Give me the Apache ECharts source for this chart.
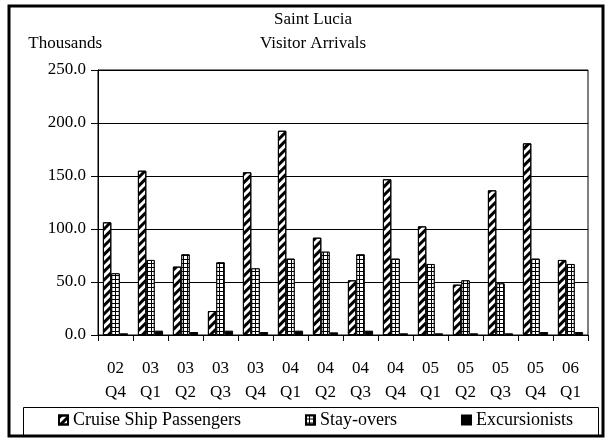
<!DOCTYPE html>
<html>
<head>
<meta charset="utf-8">
<script src="https://cdn.jsdelivr.net/npm/echarts@6/dist/echarts.min.js"></script>
<style>
  html, body { margin: 0; padding: 0; background: #fff; }
  #chart { width: 608px; height: 440px; }
</style>
</head>
<body>
<div id="chart"></div>
<script>
// Quarterly visitor arrivals to Saint Lucia, in thousands
const quarters = ['02\nQ4', '03\nQ1', '03\nQ2', '03\nQ3', '03\nQ4', '04\nQ1', '04\nQ2',
                  '04\nQ3', '04\nQ4', '05\nQ1', '05\nQ2', '05\nQ3', '05\nQ4', '06\nQ1'];
const cruisePassengers = [106.3, 155.0, 64.5, 22.6, 153.5, 192.7, 91.8, 51.6, 146.9, 102.5, 47.5, 136.5, 180.8, 70.8];
const stayOvers        = [58.2, 70.8, 76.1, 68.6, 62.9, 72.0, 78.6, 76.1, 72.0, 67.0, 51.6, 48.7, 72.0, 67.0];
const excursionists    = [1.6, 4.1, 2.8, 4.1, 2.8, 4.1, 2.5, 4.1, 1.6, 1.6, 1.6, 1.6, 2.8, 2.8];
const yTicks = { min: 0, max: 250, step: 50 };

const serif = '"Liberation Serif", "Times New Roman", serif';
const txt = { fontFamily: serif, fontSize: 17, color: '#000' };

const chart = echarts.init(document.getElementById('chart'), null, { renderer: 'canvas' });

// diagonal "/" hatch for cruise passengers
const stripes = {
  symbol: 'rect', symbolSize: 1,
  color: '#000', backgroundColor: 'rgba(0,0,0,0)',
  dashArrayX: [1, 0], dashArrayY: [3, 3],
  rotation: -Math.PI / 4
};
// small square grid for stay-overs
const grid = {
  symbol: 'rect', symbolSize: 1,
  color: '#fff', backgroundColor: '#000',
  dashArrayX: [3, 1], dashArrayY: [3, 1],
  rotation: 0
};

chart.setOption({
  animation: false,
  backgroundColor: '#fff',
  textStyle: { fontFamily: serif },
  graphic: [
    { type: 'rect', shape: { x: 9, y: 6, width: 594, height: 430 },
      style: { fill: 'none', stroke: '#000', lineWidth: 3 }, silent: true },
    { type: 'rect', shape: { x: 23.5, y: 407.5, width: 575, height: 28 },
      style: { fill: 'none', stroke: '#000', lineWidth: 1 }, silent: true },
    { type: 'text', x: 313, y: 20,
      style: { text: 'Saint Lucia', textAlign: 'center', textVerticalAlign: 'middle', font: '17px ' + serif, fill: '#000' } },
    { type: 'text', x: 313, y: 44,
      style: { text: 'Visitor Arrivals', textAlign: 'center', textVerticalAlign: 'middle', font: '17px ' + serif, fill: '#000' } }
  ],
  grid: {
    left: 98, right: 20, top: 70, bottom: 105,
    show: true, borderColor: '#000', borderWidth: 1, backgroundColor: 'rgba(0,0,0,0)'
  },
  legend: {
    left: 58, top: 411,
    padding: 0,
    itemWidth: 9, itemHeight: 9, itemGap: 64,
    icon: 'rect',
    textStyle: Object.assign({}, txt, { fontSize: 18 }),
    data: ['Cruise Ship Passengers', 'Stay-overs', 'Excursionists']
  },
  xAxis: {
    type: 'category',
    data: quarters,
    axisLine: { lineStyle: { color: '#000', width: 1 } },
    axisTick: { show: true, length: 6, lineStyle: { color: '#000' } },
    axisLabel: Object.assign({ interval: 0, margin: 22, lineHeight: 24 }, txt),
    splitLine: { show: false }
  },
  yAxis: {
    type: 'value',
    min: yTicks.min, max: yTicks.max, interval: yTicks.step,
    name: 'Thousands',
    nameLocation: 'end',
    nameGap: 18,
    nameTextStyle: Object.assign({ align: 'right', padding: [0, -4, 0, 0] }, txt),
    axisLine: { show: true, lineStyle: { color: '#000', width: 1 } },
    axisTick: { show: true, length: 7, lineStyle: { color: '#000' } },
    axisLabel: Object.assign({ margin: 12, formatter: v => v.toFixed(1) }, txt),
    splitLine: { show: true, lineStyle: { color: '#000', width: 1 } }
  },
  series: [
    {
      name: 'Cruise Ship Passengers', type: 'bar', data: cruisePassengers,
      barGap: '0%', barCategoryGap: '28%',
      itemStyle: { color: '#fff', borderColor: '#000', borderWidth: 1, decal: stripes }
    },
    {
      name: 'Stay-overs', type: 'bar', data: stayOvers,
      barGap: '0%', barCategoryGap: '28%',
      itemStyle: { color: '#fff', borderColor: '#000', borderWidth: 1, decal: grid }
    },
    {
      name: 'Excursionists', type: 'bar', data: excursionists,
      barGap: '0%', barCategoryGap: '28%',
      itemStyle: { color: '#000', borderColor: '#000', borderWidth: 1 }
    }
  ]
});
</script>
</body>
</html>
